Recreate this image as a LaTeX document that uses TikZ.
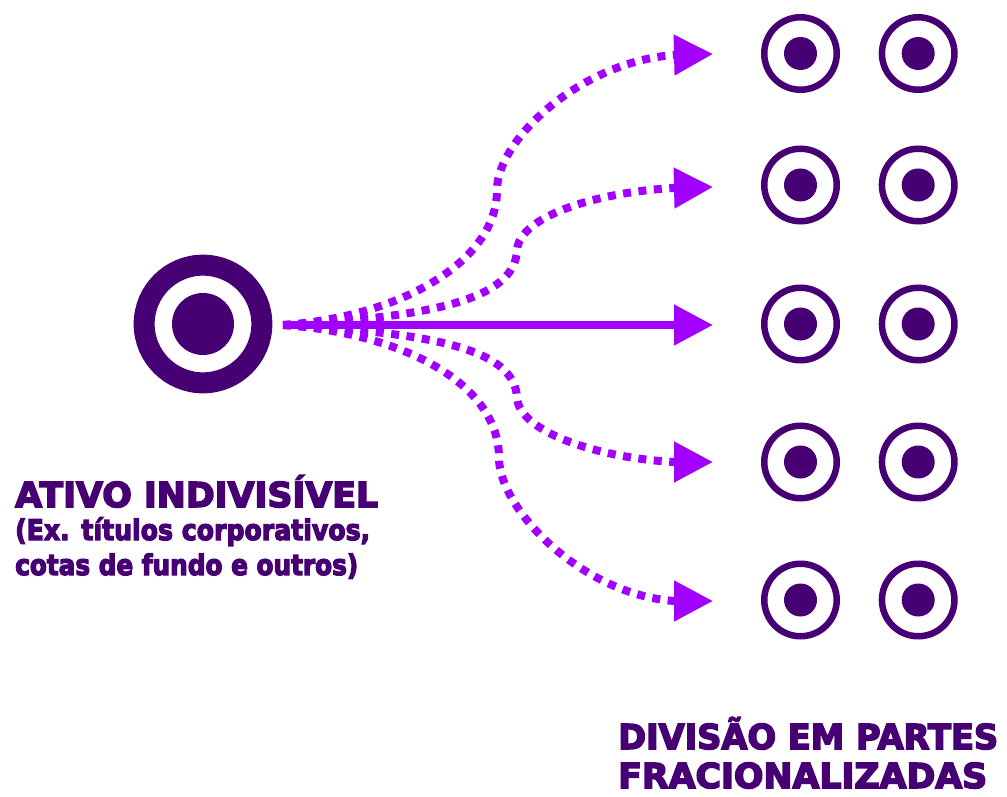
\documentclass[tikz,border=0pt]{standalone}
\usepackage{fontspec}
\usetikzlibrary{arrows.meta}
\newfontface\labfont{DejaVu Sans Bold}[FakeBold=4.5]
\definecolor{deep}{HTML}{460073}
\definecolor{vivid}{HTML}{A100FF}
\begin{document}
\begin{tikzpicture}[x=1pt,y=-1pt,
  bigring/.style={circle, draw=deep, line width=21pt, minimum size=117.7pt, inner sep=0pt,
    path picture={\fill[deep] (path picture bounding box.center) circle (31pt);}},
  smallring/.style={circle, draw=deep, line width=6.5pt, minimum size=72.5pt, inner sep=0pt,
    path picture={\fill[deep] (path picture bounding box.center) circle (16.5pt);}},
  flow/.style={draw=vivid, line width=8pt, -{Triangle[length=39pt,width=39pt]}},
  dotflow/.style={flow, dash pattern=on 8pt off 7.5pt},
  lab/.style={inner sep=0pt, anchor=base west, text=deep}
]
\useasboundingbox (0,0) rectangle (1007,797);
% source asset
\node[bigring] (src) at (203,324) {};
% fractional parts
\foreach \r/\y in {1/53.5, 2/185, 3/324, 4/462, 5/600} {
  \node[smallring] (p\r a) at (800.5,\y) {};
  \node[smallring] (p\r b) at (918.2,\y) {};
}
\coordinate (s) at (283,325);
\coordinate (t1) at (713,54);
\coordinate (t2) at (713,187);
\coordinate (t3) at (713,325);
\coordinate (t4) at (713,462);
\coordinate (t5) at (713,601);
% connectors
\draw[dotflow] (s) .. controls (400,317) and (497,262) .. (497,190)
   .. controls (497,140) and (580,62) .. (674,55) -- (t1);
\draw[dotflow] (s) .. controls (430,317) and (515,300) .. (517,250)
   .. controls (520,215) and (600,192) .. (674,188) -- (t2);
\draw[dotflow] (s) .. controls (430,333) and (515,348) .. (517,398)
   .. controls (520,433) and (600,458) .. (674,462) -- (t4);
\draw[dotflow] (s) .. controls (400,333) and (499,382) .. (499,458)
   .. controls (499,508) and (580,594) .. (674,601) -- (t5);
\draw[flow] (s) -- (t3);
% labels
\node[lab] (l1) at (15,507) {\resizebox{363pt}{\height}{\fontsize{34.3}{39}\labfont ATIVO INDIVISÍVEL}};
\node[lab] (l2) at (15,540) {\resizebox{355pt}{\height}{\fontsize{28.4}{35}\labfont (Ex. títulos corporativos,}};
\node[lab] (l3) at (15,575) {\resizebox{343pt}{\height}{\fontsize{28.4}{35}\labfont cotas de fundo e outros)}};
\node[lab] (l4) at (618,749) {\resizebox{380pt}{\height}{\fontsize{34.3}{39}\labfont DIVISÃO EM PARTES}};
\node[lab] (l5) at (618,788) {\resizebox{369pt}{\height}{\fontsize{34.3}{39}\labfont FRACIONALIZADAS}};
\end{tikzpicture}
\end{document}
